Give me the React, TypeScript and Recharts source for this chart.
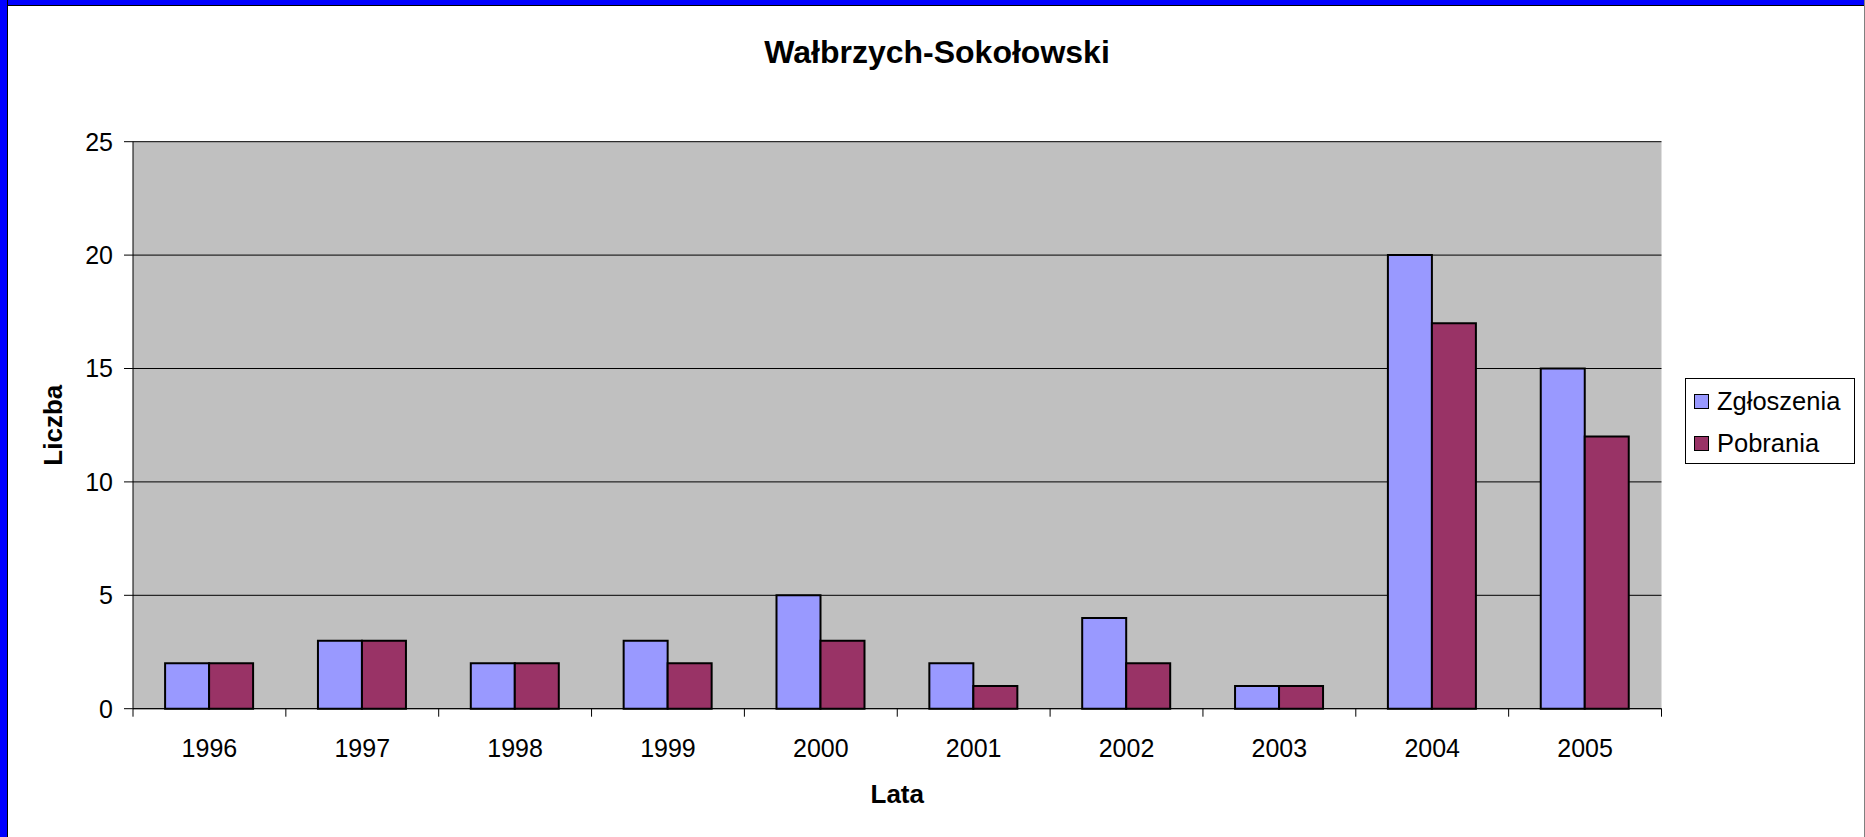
import { BarChart, Bar, XAxis, YAxis, CartesianGrid, Legend, Label } from "recharts";

const years = ["1996", "1997", "1998", "1999", "2000", "2001", "2002", "2003", "2004", "2005"];
const zgloszenia = [2, 3, 2, 3, 5, 2, 4, 1, 20, 15];
const pobrania = [2, 3, 2, 2, 3, 1, 2, 1, 17, 12];
const yTicks = [0, 5, 10, 15, 20, 25];

const seriesNames = ["Zgłoszenia", "Pobrania"];
const seriesColors = ["#9999FF", "#993366"];

const data = years.map((year, i) => ({
  year,
  zgloszenia: zgloszenia[i],
  pobrania: pobrania[i],
}));

const W = 1865;
const H = 837;
const PLOT_LEFT = 133;
const PLOT_RIGHT = 1661.5;
const PLOT_TOP = 141.7;
const PLOT_BOTTOM = 708.7;
const X_AXIS_H = 60;
const Y_AXIS_W = 60;
const TICK_SIZE = 8;
const TICK_MARGIN = 23;
const HALF_BAND = (PLOT_RIGHT - PLOT_LEFT) / years.length / 2;
const FONT = '"Liberation Sans", Arial, sans-serif';

const YearTick = (props: any) => {
  const { x, y, payload, index } = props;
  const axisY = y - TICK_SIZE - TICK_MARGIN;
  return (
    <g>
      <line x1={x - HALF_BAND} x2={x - HALF_BAND} y1={axisY} y2={axisY + TICK_SIZE} stroke="#000" />
      {index === years.length - 1 && (
        <line x1={x + HALF_BAND} x2={x + HALF_BAND} y1={axisY} y2={axisY + TICK_SIZE} stroke="#000" />
      )}
      <text x={x} y={y} dy="0.71em" textAnchor="middle" fontSize={25} fill="#000" fontFamily={FONT}>
        {payload.value}
      </text>
    </g>
  );
};

const LegendBox = () => (
  <div
    style={{
      width: 170,
      height: 86,
      boxSizing: "border-box",
      border: "1px solid #000",
      background: "#fff",
      paddingTop: 1,
      fontFamily: FONT,
    }}
  >
    {seriesNames.map((name, i) => (
      <div key={name} style={{ height: 42, display: "flex", alignItems: "center" }}>
        <span
          style={{
            width: 15,
            height: 15,
            boxSizing: "border-box",
            border: "1px solid #000",
            background: seriesColors[i],
            marginLeft: 8,
            marginRight: 8,
            display: "inline-block",
          }}
        />
        <span style={{ fontSize: 25.5, color: "#000", lineHeight: "28px" }}>{name}</span>
      </div>
    ))}
  </div>
);

export default function App() {
  return (
    <div
      style={{
        position: "fixed",
        left: 0,
        top: 0,
        width: W,
        height: H,
        background: "#fff",
        overflow: "hidden",
        fontFamily: FONT,
      }}
    >
      <BarChart
        width={W}
        height={H}
        data={data}
        margin={{
          top: PLOT_TOP,
          right: W - PLOT_RIGHT,
          bottom: H - PLOT_BOTTOM - X_AXIS_H,
          left: PLOT_LEFT - Y_AXIS_W,
        }}
        barCategoryGap="21%"
        barGap={0}
      >
        <CartesianGrid vertical={false} stroke="#000" fill="#C0C0C0" fillOpacity={1} />
        <XAxis
          dataKey="year"
          height={X_AXIS_H}
          axisLine={{ stroke: "#000" }}
          tickLine={false}
          tickSize={TICK_SIZE}
          tickMargin={TICK_MARGIN}
          tick={<YearTick />}
          interval={0}
        >
          <Label value="Lata" position="center" dy={55} fontSize={26} fontWeight="bold" fill="#000" />
        </XAxis>
        <XAxis
          xAxisId="top"
          dataKey="year"
          orientation="top"
          height={0}
          tick={false}
          tickLine={false}
          axisLine={{ stroke: "#808080" }}
        />
        <YAxis
          width={Y_AXIS_W}
          domain={[0, 25]}
          ticks={yTicks}
          interval={0}
          axisLine={{ stroke: "#000" }}
          tickLine={{ stroke: "#000" }}
          tickSize={9}
          tickMargin={11}
          tick={{ fontSize: 25, fill: "#000", fontFamily: FONT }}
        >
          <Label value="Liczba" position="center" angle={-90} dx={-50} fontSize={26} fontWeight="bold" fill="#000" />
        </YAxis>
        <YAxis
          yAxisId="right"
          orientation="right"
          width={0}
          domain={[0, 25]}
          tick={false}
          tickLine={false}
          axisLine={{ stroke: "#808080" }}
        />
        <Legend
          layout="vertical"
          align="center"
          verticalAlign="middle"
          content={<LegendBox />}
          wrapperStyle={{ left: 1685, top: 378, width: 170, height: 86 }}
        />
        <Bar dataKey="zgloszenia" name={seriesNames[0]} fill={seriesColors[0]} stroke="#000" strokeWidth={2} isAnimationActive={false} />
        <Bar dataKey="pobrania" name={seriesNames[1]} fill={seriesColors[1]} stroke="#000" strokeWidth={2} isAnimationActive={false} />
      </BarChart>
      <div
        style={{
          position: "absolute",
          left: 637,
          top: 36,
          width: 600,
          textAlign: "center",
          fontSize: 32,
          fontWeight: "bold",
          lineHeight: "32px",
          color: "#000",
        }}
      >
        Wałbrzych-Sokołowski
      </div>
      <div style={{ position: "absolute", left: 0, top: 0, width: W, height: 5, background: "#0000FF", borderBottom: "1px solid #000" }} />
      <div style={{ position: "absolute", left: 0, top: 0, width: 7, height: H, background: "#0000FF", borderRight: "1px solid #000" }} />
      <div style={{ position: "absolute", right: 0, top: 0, width: 1, height: H, background: "#808080" }} />
    </div>
  );
}
